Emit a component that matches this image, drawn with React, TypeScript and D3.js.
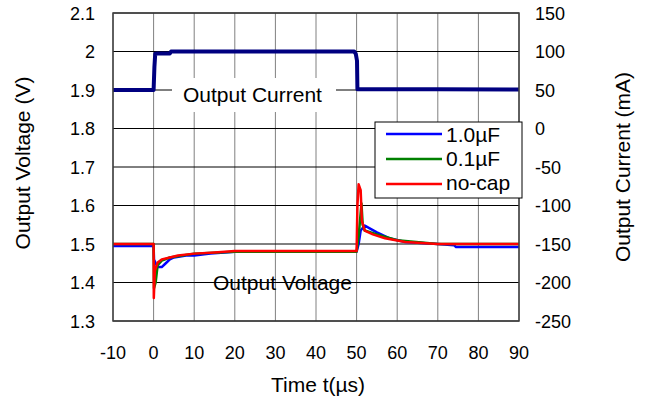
import React from "react";
import * as d3 from "d3";

const xTicks = [-10, 0, 10, 20, 30, 40, 50, 60, 70, 80, 90];
const vTicks = [1.3, 1.4, 1.5, 1.6, 1.7, 1.8, 1.9, 2.0, 2.1];
const iTicks = [-250, -200, -150, -100, -50, 0, 50, 100, 150];

const currentSeries: [number, number][] = [
  [-10, 50], [-5, 50], [0, 50], [0.2, 80], [0.4, 97], [1, 97.5], [4, 97.5], [4.3, 100],
  [49.4, 100], [49.8, 97], [50.1, 88], [50.2, 51], [70, 51], [90, 50.5],
];

const blueSeries: [number, number][] = [
  [-10, 1.495], [0, 1.495], [0.1, 1.46], [0.5, 1.45], [1, 1.44], [2, 1.44], [3, 1.45],
  [4, 1.46], [5, 1.465], [8, 1.47], [10, 1.47], [14, 1.475], [20, 1.48], [30, 1.48],
  [50, 1.48], [50.5, 1.5], [51, 1.535], [52, 1.548], [53, 1.542], [55, 1.53], [58, 1.515],
  [62, 1.505], [70, 1.5], [74, 1.497], [74.5, 1.492], [90, 1.492],
];

const greenSeries: [number, number][] = [
  [-10, 1.5], [0, 1.5], [0.1, 1.385], [0.5, 1.40], [1, 1.445], [2, 1.457], [4, 1.465],
  [10, 1.475], [20, 1.48], [50, 1.48], [50.5, 1.52], [51.2, 1.605], [51.5, 1.55],
  [52, 1.535], [55, 1.525], [60, 1.51], [70, 1.5], [90, 1.5],
];

const redSeries: [number, number][] = [
  [-10, 1.5], [0, 1.5], [0.05, 1.36], [0.3, 1.43], [1, 1.452], [2, 1.46], [4, 1.465],
  [6, 1.47], [10, 1.475], [15, 1.478], [20, 1.482], [50, 1.482], [50.2, 1.6],
  [50.5, 1.655], [51, 1.64], [51.3, 1.56], [52, 1.535], [54, 1.525], [57, 1.515],
  [62, 1.505], [70, 1.5], [90, 1.5],
];

const legendItems = [
  { label: "1.0µF", color: "#0000ff", data: blueSeries },
  { label: "0.1µF", color: "#008000", data: greenSeries },
  { label: "no-cap", color: "#ff0000", data: redSeries },
];

export default function App() {
  const W = 648, H = 401;
  const L = 113, R = 519, T = 13, B = 321;
  const x = d3.scaleLinear().domain([-10, 90]).range([L, R]);
  const yV = d3.scaleLinear().domain([1.3, 2.1]).range([B, T]);
  const yI = d3.scaleLinear().domain([-250, 150]).range([B, T]);
  const lineV = d3.line<[number, number]>().x((d) => x(d[0])).y((d) => yV(d[1]));
  const lineI = d3.line<[number, number]>().x((d) => x(d[0])).y((d) => yI(d[1]));
  const font = "Liberation Sans, Arial, sans-serif";

  return (
    <svg width={W} height={H} style={{ position: "absolute", left: 0, top: 0, background: "#fff" }} fontFamily={font}>
      <rect x={0} y={0} width={W} height={H} fill="#fff" />
      {xTicks.map((t) => (
        <line key={"gx" + t} x1={x(t)} x2={x(t)} y1={T} y2={B} stroke="#808080" strokeWidth={1} />
      ))}
      {vTicks.map((t) => (
        <line key={"gy" + t} x1={L} x2={R} y1={yV(t)} y2={yV(t)} stroke="#000" strokeWidth={1} />
      ))}
      <rect x={172} y={78} width={164} height={34} fill="#fff" />
      {legendItems.map((s) => (
        <path key={s.label} d={lineV(s.data) || ""} fill="none" stroke={s.color} strokeWidth={2.5} strokeLinejoin="round" />
      ))}
      <path d={lineI(currentSeries) || ""} fill="none" stroke="#000080" strokeWidth={4} strokeLinejoin="round" />
      <rect x={L} y={T} width={R - L} height={B - T} fill="none" stroke="#404040" strokeWidth={1.5} />

      {vTicks.map((t) => (
        <text key={"lv" + t} x={L - 18} y={yV(t) + 6.5} textAnchor="end" fontSize={18}>
          {t === 2 ? "2" : t.toFixed(1)}
        </text>
      ))}
      {iTicks.map((t) => (
        <text key={"li" + t} x={R + 16} y={yI(t) + 6.5} textAnchor="start" fontSize={18}>
          {t}
        </text>
      ))}
      {xTicks.map((t) => (
        <text key={"lx" + t} x={x(t)} y={B + 38} textAnchor="middle" fontSize={18}>
          {t}
        </text>
      ))}

      <text x={318} y={392} textAnchor="middle" fontSize={21}>Time t(µs)</text>
      <text transform={`translate(30,163) rotate(-90)`} textAnchor="middle" fontSize={21}>Output Voltage (V)</text>
      <text transform={`translate(630,167) rotate(-90)`} textAnchor="middle" fontSize={21}>Output Current (mA)</text>

      <text x={183} y={102} fontSize={21}>Output Current</text>
      <text x={213} y={290} fontSize={21}>Output Voltage</text>

      <g>
        <rect x={375} y={122} width={147} height={76} fill="#fff" stroke="#000" strokeWidth={1} />
        {legendItems.map((s, i) => (
          <g key={"lg" + s.label}>
            <line x1={386} x2={442} y1={134 + i * 25} y2={134 + i * 25} stroke={s.color} strokeWidth={2.5} />
            <text x={446} y={142 + i * 24} fontSize={21}>{s.label}</text>
          </g>
        ))}
      </g>
    </svg>
  );
}
